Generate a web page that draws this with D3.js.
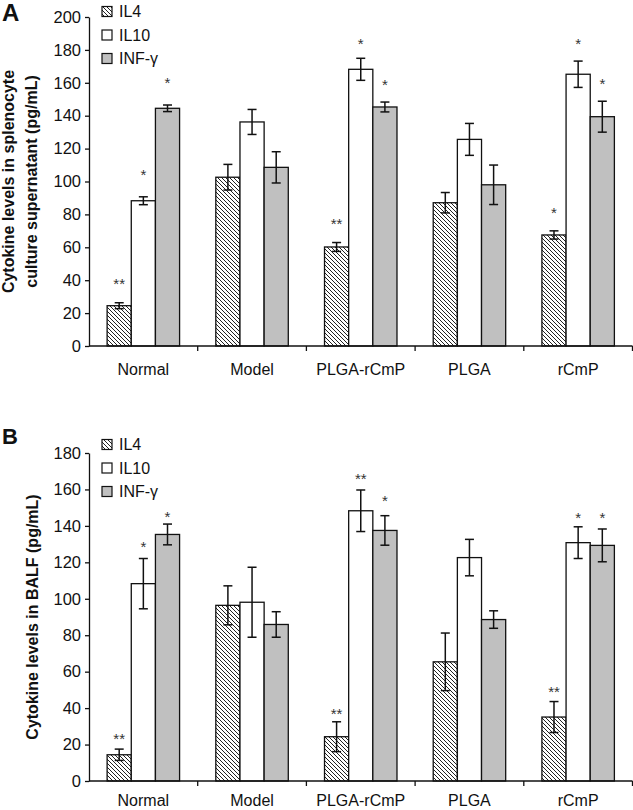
<!DOCTYPE html>
<html>
<head>
<meta charset="utf-8">
<script src="https://cdn.jsdelivr.net/npm/d3@7"></script>
<style>
  html, body { margin: 0; padding: 0; background: #fff; }
  svg { display: block; font-family: "Liberation Sans", Arial, sans-serif; }
</style>
</head>
<body>
<svg id="chart" width="633" height="810"></svg>
<script>
// ---------- data ----------
const categories = ["Normal", "Model", "PLGA-rCmP", "PLGA", "rCmP"];
const series = ["IL4", "IL10", "INF-γ"];

// Panel A: splenocyte culture supernatant (pg/mL)
const aIL4 = [24.5, 102.6, 60.2, 87.1, 67.5];
const aIL4Err = [1.8, 7.8, 2.7, 6.2, 2.5];
const aIL10 = [88.3, 136.2, 168.2, 125.6, 165.2];
const aIL10Err = [2.4, 7.6, 6.7, 9.7, 8.0];
const aINF = [144.5, 108.6, 145.3, 98.0, 139.4];
const aINFErr = [2.0, 9.5, 3.0, 12.0, 9.4];
const aIL4Star = ["**", "", "**", "", "*"];
const aIL4StarAt = [40, null, 76.2, null, 82.7];
const aIL10Star = ["*", "", "*", "", "*"];
const aIL10StarAt = [106, null, 186, null, 186];
const aINFStar = ["*", "", "*", "", "*"];
const aINFStarAt = [162, null, 160.7, null, 161.7];
const aTicks = [0, 20, 40, 60, 80, 100, 120, 140, 160, 180, 200];

// Panel B: BALF (pg/mL)
const bIL4 = [14.4, 96.4, 24.3, 65.4, 35.1];
const bIL4Err = [3.1, 10.7, 8.2, 15.8, 8.5];
const bIL10 = [108.3, 98.1, 148.3, 122.6, 130.8];
const bIL10Err = [13.8, 19.2, 11.4, 10.0, 8.7];
const bINF = [135.3, 85.9, 137.5, 88.6, 129.3];
const bINFErr = [5.7, 7.0, 8.1, 4.8, 9.0];
const bIL4Star = ["**", "", "**", "", "**"];
const bIL4StarAt = [24.8, null, 38.5, null, 51];
const bIL10Star = ["*", "", "**", "", "*"];
const bIL10StarAt = [130.2, null, 167.5, null, 146.3];
const bINFStar = ["*", "", "*", "", "*"];
const bINFStarAt = [146.7, null, 155.5, null, 146.3];
const bTicks = [0, 20, 40, 60, 80, 100, 120, 140, 160, 180];

// ---------- drawing ----------
const svg = d3.select("#chart");
const defs = svg.append("defs");
const hatch = defs.append("pattern")
  .attr("id", "hatch").attr("patternUnits", "userSpaceOnUse")
  .attr("width", 4).attr("height", 4);
hatch.append("rect").attr("width", 4).attr("height", 4).attr("fill", "#fff");
hatch.append("path")
  .attr("d", "M-1,-1 L5,5 M3,-1 L5,1 M-1,3 L1,5")
  .attr("stroke", "#222").attr("stroke-width", 1);

const fills = ["url(#hatch)", "#ffffff", "#c0c0c0"];
const xLeft = 89, xRight = 632.5;

function panel(opts) {
  const g = svg.append("g");
  const x = d3.scaleBand().domain(categories).range([xLeft, xRight]).padding(0);
  const bw = x.bandwidth();
  const xs = d3.scaleBand().domain(series).range([bw / 6, bw * 5 / 6]).padding(0);
  const y = d3.scaleLinear().domain([0, opts.max]).range([opts.y0, opts.yTop]);

  const rows = [];
  series.forEach((s, si) => {
    categories.forEach((c, ci) => {
      rows.push({
        c, s, si,
        v: opts.vals[si][ci], e: opts.errs[si][ci],
        star: opts.stars[si][ci], starAt: opts.starAt[si][ci]
      });
    });
  });

  // bars
  g.selectAll("rect.bar").data(rows).enter().append("rect")
    .attr("class", "bar")
    .attr("x", d => x(d.c) + xs(d.s))
    .attr("y", d => y(d.v))
    .attr("width", xs.bandwidth())
    .attr("height", d => y(0) - y(d.v))
    .attr("fill", d => fills[d.si])
    .attr("stroke", "#111").attr("stroke-width", 1.3);

  // error bars
  const cap = 4.5;
  const eb = g.selectAll("g.err").data(rows).enter().append("g").attr("class", "err")
    .attr("stroke", "#111").attr("stroke-width", 1.5);
  eb.append("line")
    .attr("x1", d => x(d.c) + xs(d.s) + xs.bandwidth() / 2)
    .attr("x2", d => x(d.c) + xs(d.s) + xs.bandwidth() / 2)
    .attr("y1", d => y(d.v + d.e)).attr("y2", d => y(d.v - d.e));
  eb.append("line")
    .attr("x1", d => x(d.c) + xs(d.s) + xs.bandwidth() / 2 - cap)
    .attr("x2", d => x(d.c) + xs(d.s) + xs.bandwidth() / 2 + cap)
    .attr("y1", d => y(d.v + d.e)).attr("y2", d => y(d.v + d.e));
  eb.append("line")
    .attr("x1", d => x(d.c) + xs(d.s) + xs.bandwidth() / 2 - cap)
    .attr("x2", d => x(d.c) + xs(d.s) + xs.bandwidth() / 2 + cap)
    .attr("y1", d => y(d.v - d.e)).attr("y2", d => y(d.v - d.e));

  // significance stars
  g.selectAll("text.star").data(rows.filter(d => d.star)).enter().append("text")
    .attr("class", "star")
    .attr("x", d => x(d.c) + xs(d.s) + xs.bandwidth() / 2)
    .attr("y", d => y(d.starAt) + 8.5)
    .attr("text-anchor", "middle")
    .attr("font-size", 15).attr("fill", "#333")
    .text(d => d.star);

  // y axis
  const yAxis = d3.axisLeft(y).tickValues(opts.ticks).tickSize(4).tickPadding(4).tickSizeOuter(0);
  const ya = g.append("g").attr("transform", `translate(${xLeft},0)`).call(yAxis);
  ya.select(".domain").attr("stroke", "#111").attr("stroke-width", 1.3);
  ya.selectAll(".tick line").attr("stroke", "#111").attr("stroke-width", 1.3);
  ya.selectAll(".tick text").attr("font-size", 16.5).attr("fill", "#111")
    .attr("font-family", "Liberation Sans, Arial, sans-serif");

  // x axis
  const xa = g.append("g").attr("transform", `translate(0,${opts.y0})`);
  xa.append("line").attr("x1", xLeft).attr("x2", xRight).attr("y1", 0).attr("y2", 0)
    .attr("stroke", "#111").attr("stroke-width", 1.3);
  xa.selectAll("line.sep").data(categories).enter().append("line")
    .attr("class", "sep")
    .attr("x1", d => x(d) + bw).attr("x2", d => x(d) + bw)
    .attr("y1", 0).attr("y2", 5)
    .attr("stroke", "#111").attr("stroke-width", 1.3);
  xa.selectAll("text.cat").data(categories).enter().append("text")
    .attr("class", "cat")
    .attr("x", d => x(d) + bw / 2).attr("y", opts.catY)
    .attr("text-anchor", "middle").attr("font-size", 16).attr("fill", "#111")
    .text(d => d);

  // y title
  opts.title.forEach((t, i) => {
    g.append("text")
      .attr("transform", `translate(${opts.titleX[i]},${(opts.y0 + opts.yTop) / 2}) rotate(-90)`)
      .attr("text-anchor", "middle").attr("font-size", 16).attr("font-weight", "bold")
      .attr("fill", "#111").text(t);
  });

  // panel letter
  g.append("text").attr("x", 2).attr("y", opts.letterY)
    .attr("font-size", opts.letterSize).attr("font-weight", "bold").attr("fill", "#111")
    .text(opts.letter);

  // legend
  const lg = g.append("g");
  series.forEach((s, i) => {
    const cy = opts.legendY + i * 23.5;
    lg.append("rect").attr("x", 102).attr("y", cy - 5).attr("width", 10).attr("height", 10)
      .attr("fill", fills[i]).attr("stroke", "#111").attr("stroke-width", 1.2);
    lg.append("text").attr("x", 119).attr("y", cy + 5.5)
      .attr("font-size", 16).attr("fill", "#111").text(s);
  });
}

panel({
  max: 200, y0: 346, yTop: 17, ticks: aTicks, catY: 29,
  vals: [aIL4, aIL10, aINF], errs: [aIL4Err, aIL10Err, aINFErr],
  stars: [aIL4Star, aIL10Star, aINFStar], starAt: [aIL4StarAt, aIL10StarAt, aINFStarAt],
  title: ["Cytokine levels in splenocyte", "culture supernatant (pg/mL)"], titleX: [13.5, 36.5],
  letter: "A", letterY: 21, letterSize: 24, legendY: 11.5
});

panel({
  max: 180, y0: 781, yTop: 453, ticks: bTicks, catY: 25,
  vals: [bIL4, bIL10, bINF], errs: [bIL4Err, bIL10Err, bINFErr],
  stars: [bIL4Star, bIL10Star, bINFStar], starAt: [bIL4StarAt, bIL10StarAt, bINFStarAt],
  title: ["Cytokine levels in BALF (pg/mL)"], titleX: [38.3],
  letter: "B", letterY: 444, letterSize: 22, legendY: 444.5
});
</script>
</body>
</html>
